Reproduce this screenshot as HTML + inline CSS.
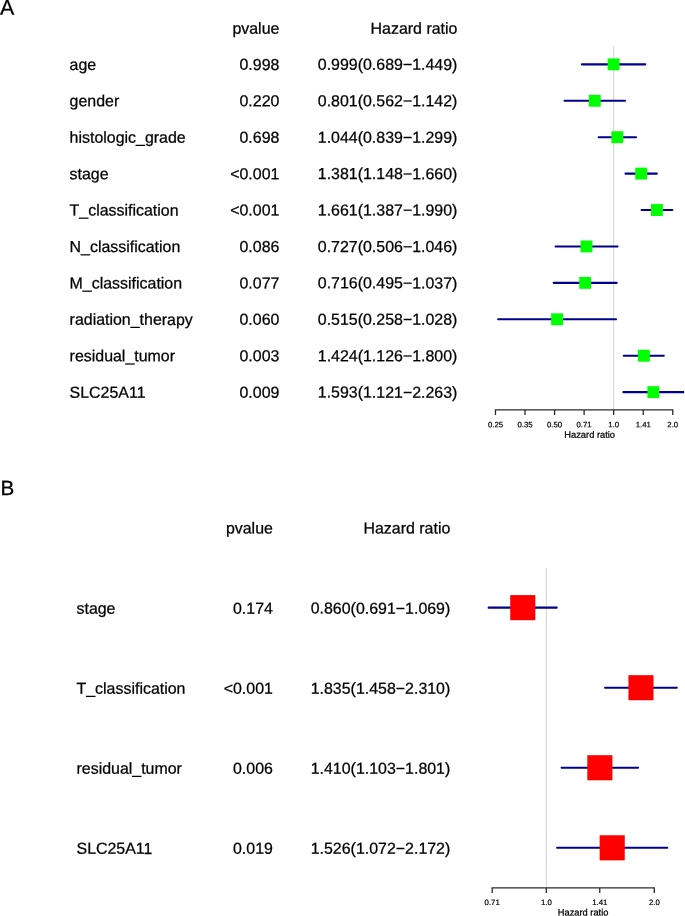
<!DOCTYPE html>
<html><head><meta charset="utf-8"><title>Forest plot</title>
<style>
html,body{margin:0;padding:0;background:#fff;}
body{width:685px;height:916px;overflow:hidden;font-family:"Liberation Sans",sans-serif;}
svg{display:block;will-change:transform;}
text{font-family:"Liberation Sans",sans-serif;fill:#000;text-rendering:geometricPrecision;}
.t{font-size:15.95px;stroke:#000;stroke-width:0.25px;}
.labA{font-size:21.4px;stroke:#000;stroke-width:0.25px;}
.labB{font-size:20.6px;stroke:#000;stroke-width:0.25px;}
.ax{font-size:7.8px;stroke:#000;stroke-width:0.2px;}
.axl{font-size:9.3px;stroke:#000;stroke-width:0.25px;}
</style></head><body>
<svg width="685" height="916" viewBox="0 0 685 916">
<rect x="0" y="0" width="685" height="916" fill="#ffffff"/>

<text class="labA" transform="rotate(0.03 -0.10 14.65)" x="-0.10" y="14.65">A</text>
<text class="t" transform="rotate(0.03 279.40 33.70)" x="279.40" y="33.70" text-anchor="end">pvalue</text>
<text class="t" transform="rotate(0.03 457.40 33.70)" x="457.40" y="33.70" text-anchor="end">Hazard ratio</text>
<line x1="613.67" y1="46.2" x2="613.67" y2="409.9" stroke="#d2d2d2" stroke-width="1"/>
<text class="t" transform="rotate(0.03 69.60 69.90)" x="69.60" y="69.90">age</text>
<text class="t" transform="rotate(0.03 279.40 69.90)" x="279.40" y="69.90" text-anchor="end">0.998</text>
<text class="t" transform="rotate(0.03 457.40 69.90)" x="457.40" y="69.90" text-anchor="end">0.999(0.689−1.449)</text>
<line x1="581.91" y1="64.35" x2="645.29" y2="64.35" stroke="#00008b" stroke-width="2.1" stroke-linecap="round"/>
<rect x="607.63" y="58.40" width="11.9" height="11.9" fill="#00ff00"/>
<text class="t" transform="rotate(0.03 69.60 106.32)" x="69.60" y="106.32">gender</text>
<text class="t" transform="rotate(0.03 279.40 106.32)" x="279.40" y="106.32" text-anchor="end">0.220</text>
<text class="t" transform="rotate(0.03 457.40 106.32)" x="457.40" y="106.32" text-anchor="end">0.801(0.562−1.142)</text>
<line x1="564.54" y1="100.77" x2="624.99" y2="100.77" stroke="#00008b" stroke-width="2.1" stroke-linecap="round"/>
<rect x="588.80" y="94.82" width="11.9" height="11.9" fill="#00ff00"/>
<text class="t" transform="rotate(0.03 69.60 142.74)" x="69.60" y="142.74">histologic_grade</text>
<text class="t" transform="rotate(0.03 279.40 142.74)" x="279.40" y="142.74" text-anchor="end">0.698</text>
<text class="t" transform="rotate(0.03 457.40 142.74)" x="457.40" y="142.74" text-anchor="end">1.044(0.839−1.299)</text>
<line x1="598.70" y1="137.19" x2="635.97" y2="137.19" stroke="#00008b" stroke-width="2.1" stroke-linecap="round"/>
<rect x="611.39" y="131.24" width="11.9" height="11.9" fill="#00ff00"/>
<text class="t" transform="rotate(0.03 69.60 179.16)" x="69.60" y="179.16">stage</text>
<text class="t" transform="rotate(0.03 279.40 179.16)" x="279.40" y="179.16" text-anchor="end">&lt;0.001</text>
<text class="t" transform="rotate(0.03 457.40 179.16)" x="457.40" y="179.16" text-anchor="end">1.381(1.148−1.660)</text>
<line x1="625.44" y1="173.61" x2="656.88" y2="173.61" stroke="#00008b" stroke-width="2.1" stroke-linecap="round"/>
<rect x="635.24" y="167.66" width="11.9" height="11.9" fill="#00ff00"/>
<text class="t" transform="rotate(0.03 69.60 215.58)" x="69.60" y="215.58">T_classification</text>
<text class="t" transform="rotate(0.03 279.40 215.58)" x="279.40" y="215.58" text-anchor="end">&lt;0.001</text>
<text class="t" transform="rotate(0.03 457.40 215.58)" x="457.40" y="215.58" text-anchor="end">1.661(1.387−1.990)</text>
<line x1="641.56" y1="210.03" x2="672.34" y2="210.03" stroke="#00008b" stroke-width="2.1" stroke-linecap="round"/>
<rect x="650.98" y="204.08" width="11.9" height="11.9" fill="#00ff00"/>
<text class="t" transform="rotate(0.03 69.60 252.00)" x="69.60" y="252.00">N_classification</text>
<text class="t" transform="rotate(0.03 279.40 252.00)" x="279.40" y="252.00" text-anchor="end">0.086</text>
<text class="t" transform="rotate(0.03 457.40 252.00)" x="457.40" y="252.00" text-anchor="end">0.727(0.506−1.046)</text>
<line x1="555.59" y1="246.45" x2="617.50" y2="246.45" stroke="#00008b" stroke-width="2.1" stroke-linecap="round"/>
<rect x="580.54" y="240.50" width="11.9" height="11.9" fill="#00ff00"/>
<text class="t" transform="rotate(0.03 69.60 288.42)" x="69.60" y="288.42">M_classification</text>
<text class="t" transform="rotate(0.03 279.40 288.42)" x="279.40" y="288.42" text-anchor="end">0.077</text>
<text class="t" transform="rotate(0.03 457.40 288.42)" x="457.40" y="288.42" text-anchor="end">0.716(0.495−1.037)</text>
<line x1="553.71" y1="282.87" x2="616.77" y2="282.87" stroke="#00008b" stroke-width="2.1" stroke-linecap="round"/>
<rect x="579.24" y="276.92" width="11.9" height="11.9" fill="#00ff00"/>
<text class="t" transform="rotate(0.03 69.60 324.84)" x="69.60" y="324.84">radiation_therapy</text>
<text class="t" transform="rotate(0.03 279.40 324.84)" x="279.40" y="324.84" text-anchor="end">0.060</text>
<text class="t" transform="rotate(0.03 457.40 324.84)" x="457.40" y="324.84" text-anchor="end">0.515(0.258−1.028)</text>
<line x1="498.16" y1="319.29" x2="616.02" y2="319.29" stroke="#00008b" stroke-width="2.1" stroke-linecap="round"/>
<rect x="551.14" y="313.34" width="11.9" height="11.9" fill="#00ff00"/>
<text class="t" transform="rotate(0.03 69.60 361.26)" x="69.60" y="361.26">residual_tumor</text>
<text class="t" transform="rotate(0.03 279.40 361.26)" x="279.40" y="361.26" text-anchor="end">0.003</text>
<text class="t" transform="rotate(0.03 457.40 361.26)" x="457.40" y="361.26" text-anchor="end">1.424(1.126−1.800)</text>
<line x1="623.79" y1="355.71" x2="663.79" y2="355.71" stroke="#00008b" stroke-width="2.1" stroke-linecap="round"/>
<rect x="637.86" y="349.76" width="11.9" height="11.9" fill="#00ff00"/>
<text class="t" transform="rotate(0.03 69.60 397.68)" x="69.60" y="397.68">SLC25A11</text>
<text class="t" transform="rotate(0.03 279.40 397.68)" x="279.40" y="397.68" text-anchor="end">0.009</text>
<text class="t" transform="rotate(0.03 457.40 397.68)" x="457.40" y="397.68" text-anchor="end">1.593(1.121−2.263)</text>
<line x1="623.41" y1="392.13" x2="683.30" y2="392.13" stroke="#00008b" stroke-width="2.1" stroke-linecap="round"/>
<rect x="647.42" y="386.18" width="11.9" height="11.9" fill="#00ff00"/>
<line x1="495.47" y1="409.9" x2="672.77" y2="409.9" stroke="#2a2a2a" stroke-width="1.3" stroke-linecap="square"/>
<line x1="495.47" y1="409.9" x2="495.47" y2="415.0" stroke="#2a2a2a" stroke-width="1.3"/>
<text class="ax" transform="rotate(0.03 495.47 427.15)" x="495.47" y="427.15" text-anchor="middle">0.25</text>
<line x1="525.02" y1="409.9" x2="525.02" y2="415.0" stroke="#2a2a2a" stroke-width="1.3"/>
<text class="ax" transform="rotate(0.03 525.02 427.15)" x="525.02" y="427.15" text-anchor="middle">0.35</text>
<line x1="554.57" y1="409.9" x2="554.57" y2="415.0" stroke="#2a2a2a" stroke-width="1.3"/>
<text class="ax" transform="rotate(0.03 554.57 427.15)" x="554.57" y="427.15" text-anchor="middle">0.50</text>
<line x1="584.12" y1="409.9" x2="584.12" y2="415.0" stroke="#2a2a2a" stroke-width="1.3"/>
<text class="ax" transform="rotate(0.03 584.12 427.15)" x="584.12" y="427.15" text-anchor="middle">0.71</text>
<line x1="613.67" y1="409.9" x2="613.67" y2="415.0" stroke="#2a2a2a" stroke-width="1.3"/>
<text class="ax" transform="rotate(0.03 613.67 427.15)" x="613.67" y="427.15" text-anchor="middle">1.0</text>
<line x1="643.22" y1="409.9" x2="643.22" y2="415.0" stroke="#2a2a2a" stroke-width="1.3"/>
<text class="ax" transform="rotate(0.03 643.22 427.15)" x="643.22" y="427.15" text-anchor="middle">1.41</text>
<line x1="672.77" y1="409.9" x2="672.77" y2="415.0" stroke="#2a2a2a" stroke-width="1.3"/>
<text class="ax" transform="rotate(0.03 672.77 427.15)" x="672.77" y="427.15" text-anchor="middle">2.0</text>
<text class="axl" transform="rotate(0.03 589.65 437.70)" x="589.65" y="437.70" text-anchor="middle">Hazard ratio</text>
<text class="labB" transform="rotate(0.03 0.45 494.90)" x="0.45" y="494.90">B</text>
<text class="t" transform="rotate(0.03 272.90 533.60)" x="272.90" y="533.60" text-anchor="end">pvalue</text>
<text class="t" transform="rotate(0.03 450.30 533.60)" x="450.30" y="533.60" text-anchor="end">Hazard ratio</text>
<line x1="546.3" y1="567.8" x2="546.3" y2="887.95" stroke="#d2d2d2" stroke-width="1"/>
<text class="t" transform="rotate(0.03 76.50 613.70)" x="76.50" y="613.70">stage</text>
<text class="t" transform="rotate(0.03 272.90 613.70)" x="272.90" y="613.70" text-anchor="end">0.174</text>
<text class="t" transform="rotate(0.03 450.30 613.70)" x="450.30" y="613.70" text-anchor="end">0.860(0.691−1.069)</text>
<line x1="488.66" y1="607.65" x2="556.71" y2="607.65" stroke="#00008b" stroke-width="2.1" stroke-linecap="round"/>
<rect x="510.23" y="595.10" width="25.1" height="25.1" fill="#ff0000"/>
<text class="t" transform="rotate(0.03 76.50 693.75)" x="76.50" y="693.75">T_classification</text>
<text class="t" transform="rotate(0.03 272.90 693.75)" x="272.90" y="693.75" text-anchor="end">&lt;0.001</text>
<text class="t" transform="rotate(0.03 450.30 693.75)" x="450.30" y="693.75" text-anchor="end">1.835(1.458−2.310)</text>
<line x1="605.11" y1="687.70" x2="676.87" y2="687.70" stroke="#00008b" stroke-width="2.1" stroke-linecap="round"/>
<rect x="628.42" y="675.15" width="25.1" height="25.1" fill="#ff0000"/>
<text class="t" transform="rotate(0.03 76.50 773.80)" x="76.50" y="773.80">residual_tumor</text>
<text class="t" transform="rotate(0.03 272.90 773.80)" x="272.90" y="773.80" text-anchor="end">0.006</text>
<text class="t" transform="rotate(0.03 450.30 773.80)" x="450.30" y="773.80" text-anchor="end">1.410(1.103−1.801)</text>
<line x1="561.59" y1="767.75" x2="638.06" y2="767.75" stroke="#00008b" stroke-width="2.1" stroke-linecap="round"/>
<rect x="587.33" y="755.20" width="25.1" height="25.1" fill="#ff0000"/>
<text class="t" transform="rotate(0.03 76.50 853.85)" x="76.50" y="853.85">SLC25A11</text>
<text class="t" transform="rotate(0.03 272.90 853.85)" x="272.90" y="853.85" text-anchor="end">0.019</text>
<text class="t" transform="rotate(0.03 450.30 853.85)" x="450.30" y="853.85" text-anchor="end">1.526(1.072−2.172)</text>
<line x1="557.14" y1="847.80" x2="667.27" y2="847.80" stroke="#00008b" stroke-width="2.1" stroke-linecap="round"/>
<rect x="599.66" y="835.25" width="25.1" height="25.1" fill="#ff0000"/>
<line x1="492.20" y1="887.95" x2="654.30" y2="887.95" stroke="#2a2a2a" stroke-width="1.3" stroke-linecap="square"/>
<line x1="492.20" y1="887.95" x2="492.20" y2="893.0500000000001" stroke="#2a2a2a" stroke-width="1.3"/>
<text class="ax" transform="rotate(0.03 492.20 905.05)" x="492.20" y="905.05" text-anchor="middle">0.71</text>
<line x1="546.30" y1="887.95" x2="546.30" y2="893.0500000000001" stroke="#2a2a2a" stroke-width="1.3"/>
<text class="ax" transform="rotate(0.03 546.30 905.05)" x="546.30" y="905.05" text-anchor="middle">1.0</text>
<line x1="599.75" y1="887.95" x2="599.75" y2="893.0500000000001" stroke="#2a2a2a" stroke-width="1.3"/>
<text class="ax" transform="rotate(0.03 599.75 905.05)" x="599.75" y="905.05" text-anchor="middle">1.41</text>
<line x1="654.30" y1="887.95" x2="654.30" y2="893.0500000000001" stroke="#2a2a2a" stroke-width="1.3"/>
<text class="ax" transform="rotate(0.03 654.30 905.05)" x="654.30" y="905.05" text-anchor="middle">2.0</text>
<text class="axl" transform="rotate(0.03 583.10 915.60)" x="583.10" y="915.60" text-anchor="middle">Hazard ratio</text>
</svg></body></html>
